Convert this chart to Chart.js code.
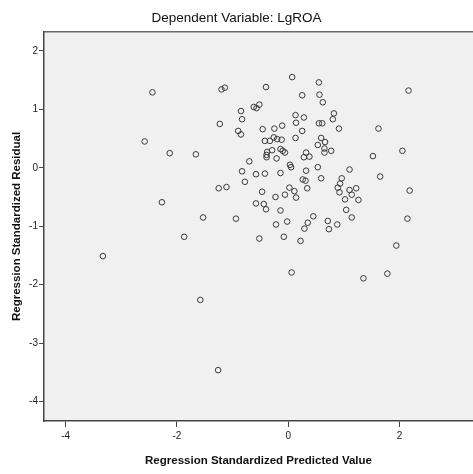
<!DOCTYPE html>
<html>
<head>
<meta charset="utf-8">
<script src="https://cdn.jsdelivr.net/npm/chart.js@4.4.0/dist/chart.umd.min.js"></script>
<style>
    html, body { margin: 0; padding: 0; background: #ffffff; }
    #wrap { width: 473px; height: 474px; }
</style>
</head>
<body>
<div id="wrap"><canvas id="residualChart" width="473" height="474"></canvas></div>
<script>
// Scatter of standardized residuals against standardized predicted values
const predicted = [
    -3.33, -2.58, -2.44, -2.27, -2.13, -1.87, -1.66, -1.58, -1.53, -1.26,
    -1.25, -1.23, -1.20, -1.14, -1.11, -0.94, -0.90, -0.85, -0.85, -0.83,
    -0.83, -0.78, -0.70, -0.62, -0.57, -0.52, -0.40, 0.07, 0.25, -0.46,
    -0.25, -0.11, 0.13, 0.14, 0.28, 0.25, 0.13, -0.42, -0.33, -0.26,
    -0.20, -0.12, -0.38, -0.29, -0.39, -0.39, -0.14, -0.10, -0.06, -0.21,
    0.03, 0.05, -0.58, -0.42, -0.14, 0.32, 0.55, 0.56, 0.62, 2.16,
    0.82, 0.80, 0.55, 0.61, 0.91, 1.62, 0.59, 0.66, 0.53, 0.65,
    0.65, 0.77, 0.32, 0.28, 0.38, 1.52, 2.05, 0.53, 1.10, 1.65,
    0.26, 0.31, 0.34, 0.59, 0.96, 0.93, 0.89, 0.92, 1.10, 1.22,
    1.14, 1.26, 1.02, 1.04, 1.14, 2.18, 2.14, -0.47, -0.23, -0.06,
    0.02, 0.11, 0.14, -0.58, -0.44, -0.40, -0.14, -0.22, -0.02, 0.29,
    0.35, 0.45, 0.71, 0.88, 0.73, -0.52, -0.08, 0.22, 0.06, 1.94,
    1.78, 1.35
];
const residual = [
    -1.51, 0.45, 1.29, -0.59, 0.25, -1.18, 0.23, -2.26, -0.85, -3.46,
    -0.35, 0.75, 1.34, 1.37, -0.33, -0.87, 0.63, 0.57, 0.97, 0.83,
    -0.06, -0.24, 0.11, 1.04, 1.02, 1.08, 1.38, 1.55, 1.24, 0.66,
    0.67, 0.72, 0.90, 0.77, 0.86, 0.63, 0.51, 0.46, 0.46, 0.52,
    0.49, 0.48, 0.27, 0.30, 0.18, 0.22, 0.32, 0.29, 0.26, 0.16,
    0.05, 0.01, -0.11, -0.10, -0.09, -0.05, 1.46, 1.25, 1.12, 1.32,
    0.93, 0.83, 0.76, 0.76, 0.67, 0.67, 0.51, 0.44, 0.39, 0.33,
    0.26, 0.29, 0.26, 0.18, 0.19, 0.20, 0.29, 0.01, -0.03, -0.15,
    -0.20, -0.22, -0.35, -0.18, -0.18, -0.27, -0.34, -0.42, -0.38, -0.35,
    -0.46, -0.55, -0.54, -0.72, -0.85, -0.39, -0.87, -0.41, -0.50, -0.46,
    -0.34, -0.40, -0.51, -0.61, -0.62, -0.71, -0.73, -0.97, -0.92, -1.04,
    -0.94, -0.83, -0.91, -0.97, -1.05, -1.21, -1.18, -1.25, -1.79, -1.33,
    -1.81, -1.89
];
const xTickValues = [-4, -2, 0, 2];
const yTickValues = [2, 1, 0, -1, -2, -3, -4];

const chartTitle = 'Dependent Variable: LgROA';
const xAxisTitle = 'Regression Standardized Predicted Value';
const yAxisTitle = 'Regression Standardized Residual';

const labelFont = "'Liberation Sans', Arial, sans-serif";

// grey plot area plus its top edge
const plotBackground = {
    id: 'plotBackground',
    beforeDraw(chart) {
        const { ctx, chartArea: a } = chart;
        ctx.save();
        ctx.fillStyle = '#f0f0f0';
        ctx.fillRect(a.left, a.top, a.right - a.left, a.bottom - a.top);
        ctx.strokeStyle = '#6a6a6a';
        ctx.lineWidth = 1.5;
        ctx.beginPath();
        ctx.moveTo(a.left, a.top);
        ctx.lineTo(a.right, a.top);
        ctx.stroke();
        ctx.restore();
    }
};

const points = predicted.map((x, i) => ({ x: x, y: residual[i] }));

const ctx = document.getElementById('residualChart').getContext('2d');
new Chart(ctx, {
    type: 'scatter',
    data: {
        datasets: [{
            data: points,
            pointRadius: 2.8,
            pointHoverRadius: 2.8,
            pointBorderWidth: 1,
            borderColor: '#3a3a3a',
            backgroundColor: 'rgba(0,0,0,0)'
        }]
    },
    plugins: [plotBackground],
    options: {
        responsive: false,
        animation: false,
        layout: { padding: 0, autoPadding: false },
        plugins: {
            legend: { display: false },
            tooltip: { enabled: false },
            title: {
                display: true,
                text: chartTitle,
                color: '#111',
                font: { family: labelFont, size: 13.5, weight: 'normal', lineHeight: 1.2 },
                padding: { top: 10, bottom: 5.6 }
            }
        },
        scales: {
            x: {
                type: 'linear',
                min: -4.388,
                max: 3.318,
                afterBuildTicks: (scale) => {
                    scale.ticks = xTickValues.map(v => ({ value: v }));
                },
                afterFit: (scale) => { scale.height = 53; },
                ticks: {
                    color: '#222',
                    padding: 3,
                    maxRotation: 0,
                    font: { family: labelFont, size: 10 },
                    callback: (v) => String(v)
                },
                grid: {
                    drawOnChartArea: false,
                    drawTicks: true,
                    tickLength: 6,
                    color: '#444'
                },
                border: { display: true, color: '#444', width: 1.5 },
                title: {
                    display: true,
                    text: xAxisTitle,
                    color: '#111',
                    font: { family: labelFont, size: 11.5, weight: 'bold', lineHeight: 1.15 },
                    padding: { top: 7, bottom: 7 }
                }
            },
            y: {
                type: 'linear',
                min: -4.33,
                max: 2.325,
                afterBuildTicks: (scale) => {
                    scale.ticks = yTickValues.map(v => ({ value: v }));
                },
                afterFit: (scale) => { scale.width = 44; },
                ticks: {
                    color: '#222',
                    padding: 1,
                    font: { family: labelFont, size: 10 },
                    callback: (v) => String(v)
                },
                grid: {
                    drawOnChartArea: false,
                    drawTicks: true,
                    tickLength: 5,
                    color: '#444'
                },
                border: { display: true, color: '#444', width: 1.5 },
                title: {
                    display: true,
                    text: yAxisTitle,
                    color: '#111',
                    font: { family: labelFont, size: 11.5, weight: 'bold', lineHeight: 1.15 },
                    padding: { top: 10, bottom: 10 }
                }
            }
        }
    }
});
</script>
</body>
</html>
